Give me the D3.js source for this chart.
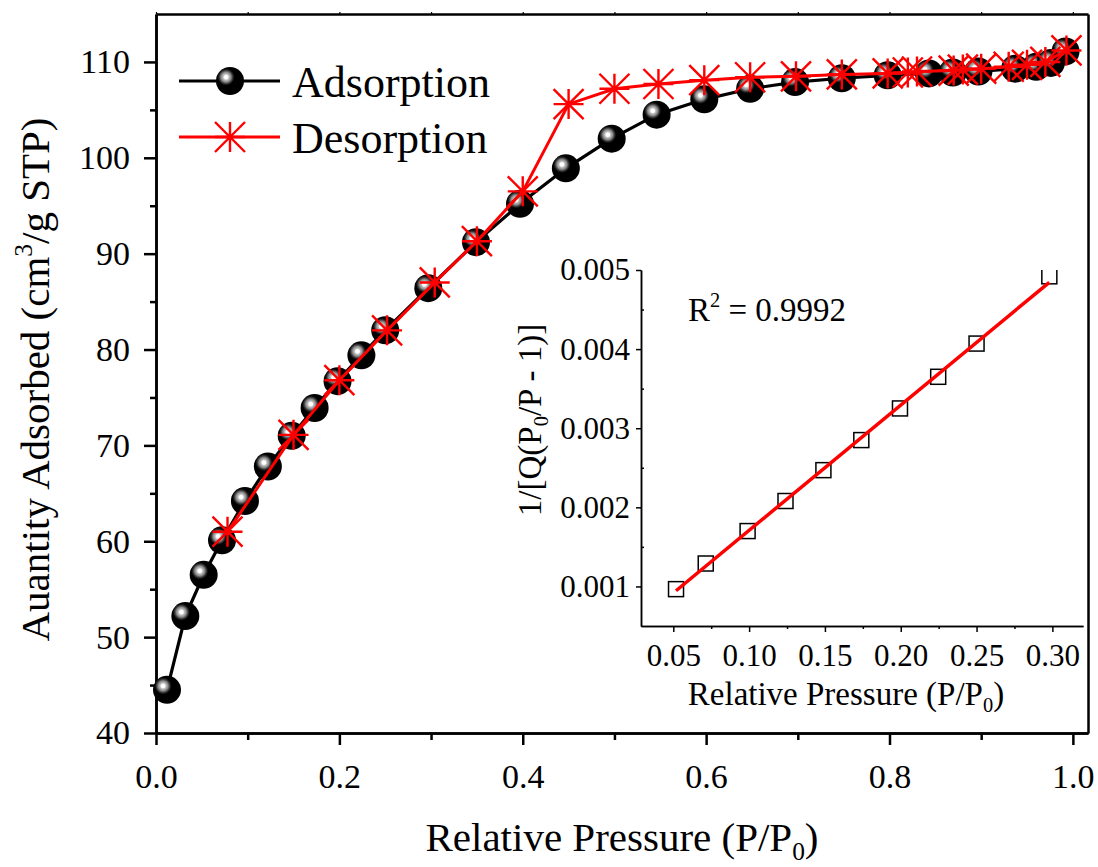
<!DOCTYPE html>
<html><head><meta charset="utf-8">
<script src="https://cdn.jsdelivr.net/npm/d3@7"></script>
<style>
html,body{margin:0;padding:0;background:#fff;}
svg{display:block;}
</style></head><body>
<svg id="chart" width="1098" height="867" font-family="Liberation Serif"></svg>
<script>
// N2 isotherm: adsorption branch
const adsorptionP = [0.012,0.032,0.052,0.072,0.097,0.122,0.148,0.173,0.198,0.224,0.25,0.297,0.349,0.397,0.447,0.497,0.546,0.598,0.648,0.697,0.748,0.798,0.843,0.869,0.897,0.937,0.96,0.976,0.992];
const adsorptionQ = [44.5,52.2,56.5,60.1,64.2,67.8,71.0,73.9,76.7,79.4,82.0,86.4,91.2,95.2,98.9,102.0,104.5,106.1,107.2,107.9,108.3,108.6,108.8,108.9,109.0,109.3,109.5,109.9,111.1];
// desorption branch
const desorptionP = [0.078,0.15,0.2,0.252,0.304,0.35,0.4,0.45,0.5,0.548,0.598,0.648,0.698,0.748,0.798,0.82,0.83,0.87,0.88,0.90,0.93,0.95,0.97,0.993];
const desorptionQ = [61.0,71.1,76.8,82.0,87.0,91.3,96.5,105.6,107.2,107.7,108.1,108.4,108.5,108.7,108.8,108.9,109.0,109.1,109.2,109.3,109.5,109.7,110.0,111.2];
const mainXTicks = [0,0.2,0.4,0.6,0.8,1.0];
const mainXMinor = [0.1,0.3,0.5,0.7,0.9];
const mainYTicks = [40,50,60,70,80,90,100,110];
const mainYMinor = [45,55,65,75,85,95,105];

// BET linear region
const betP = [0.0518,0.0714,0.099,0.124,0.149,0.174,0.1995,0.2247,0.25,0.298];
const betY = [0.000966,0.00129,0.0017,0.00208,0.00247,0.00285,0.00325,0.00365,0.00407,0.00492];
const betXTicks = [0.05,0.10,0.15,0.20,0.25,0.30];
const betXMinor = [0.075,0.125,0.175,0.225,0.275];
const betYTicks = [0.001,0.002,0.003,0.004,0.005];
const betYMinor = [0.0015,0.0025,0.0035,0.0045];
const r2Text = "0.9992";

const FONT = "Liberation Serif";
const svg = d3.select("#chart");
const defs = svg.append("defs");

// shaded sphere marker fill
const grad = defs.append("radialGradient").attr("id","sphere")
  .attr("cx",0.36).attr("cy",0.36).attr("r",0.3).attr("fx",0.36).attr("fy",0.36);
[[0,"#ffffff"],[0.22,"#ffffff"],[0.34,"#c4c4c4"],[0.58,"#8c8c8c"],[0.82,"#303030"],[1,"#000000"]]
  .forEach(([o,c]) => grad.append("stop").attr("offset",o).attr("stop-color",c));

// ---------- main plot ----------
const L = 156, R = 1088, T = 14, B = 733;
const x = d3.scaleLinear().domain([0,1.0165]).range([L,R]);
const y = d3.scaleLinear().domain([40,115]).range([B,T]);

function styleAxis(g, w, fs){
  g.attr("font-family",FONT).attr("font-size",fs).attr("fill","#000");
  g.select(".domain").attr("stroke","#000").attr("stroke-width",w);
  g.selectAll(".tick line").attr("stroke","#000").attr("stroke-width",w);
  g.selectAll(".tick text").attr("fill","#000").attr("font-family",FONT);
}

// frame: top and right
const gTop = svg.append("g").attr("transform",`translate(0,${T})`)
  .call(d3.axisTop(x).tickValues(mainXMinor.concat(mainXTicks)).tickSize(2).tickSizeOuter(0).tickFormat(""));
styleAxis(gTop,2.5,0);
gTop.selectAll(".tick line").attr("stroke-width",1.2);
const gRight = svg.append("g").attr("transform",`translate(${R},0)`)
  .call(d3.axisRight(y).tickValues([]).tickSizeOuter(0));
styleAxis(gRight,2.5,0);

// x axis
const gxMinor = svg.append("g").attr("transform",`translate(0,${B})`)
  .call(d3.axisBottom(x).tickValues(mainXMinor).tickSize(7).tickSizeOuter(0).tickFormat(""));
styleAxis(gxMinor,2.5,0);
const gx = svg.append("g").attr("transform",`translate(0,${B})`)
  .call(d3.axisBottom(x).tickValues(mainXTicks).tickSize(12).tickSizeOuter(0).tickPadding(19).tickFormat(d3.format(".1f")));
styleAxis(gx,2.5,34);

// y axis
const gyMinor = svg.append("g").attr("transform",`translate(${L},0)`)
  .call(d3.axisLeft(y).tickValues(mainYMinor).tickSize(6).tickSizeOuter(0).tickFormat(""));
styleAxis(gyMinor,2.5,0);
const gy = svg.append("g").attr("transform",`translate(${L},0)`)
  .call(d3.axisLeft(y).tickValues(mainYTicks).tickSize(12).tickSizeOuter(0).tickPadding(14).tickFormat(d3.format("d")));
styleAxis(gy,2.5,34);

// rich text helper: parts = [[text, "sub"|"sup"|null], ...]
function richText(sel, parts, fs){
  sel.attr("font-family",FONT).attr("fill","#000");
  let shift = 0;
  parts.forEach(([t,kind]) => {
    const target = kind==="sub" ? 0.22*fs : kind==="sup" ? -0.42*fs : 0;
    sel.append("tspan").attr("dy", target - shift).attr("font-size", kind ? 0.62*fs : fs).text(t);
    shift = target;
  });
}

// axis titles
const xt = svg.append("text").attr("x",(L+R)/2).attr("y",851).attr("text-anchor","middle").attr("font-size",41);
richText(xt,[["Relative Pressure (P/P"],["0","sub"],[")"]],41);
const yt = svg.append("text").attr("transform",`translate(49,${(T+B)/2+6}) rotate(-90)`).attr("text-anchor","middle").attr("font-size",41);
richText(yt,[["Auantity Adsorbed (cm"],["3","sup"],["/g STP)"]],41);

// series
const starPath = s => `M${-s},0H${s}M0,${-s}V${s}M${-s},${-s}L${s},${s}M${-s},${s}L${s},${-s}`;
const ads = adsorptionP.map((p,i)=>[p,adsorptionQ[i]]);
const des = desorptionP.map((p,i)=>[p,desorptionQ[i]]);
const line = d3.line().x(d=>x(d[0])).y(d=>y(d[1]));

svg.append("path").datum(ads).attr("d",line).attr("fill","none").attr("stroke","#000").attr("stroke-width",3.2);
svg.append("g").selectAll("circle").data(ads).join("circle")
  .attr("cx",d=>x(d[0])).attr("cy",d=>y(d[1])).attr("r",14).attr("fill","url(#sphere)");

svg.append("path").datum(des).attr("d",line).attr("fill","none").attr("stroke","#ff0000").attr("stroke-width",3);
svg.append("g").selectAll("path").data(des).join("path")
  .attr("transform",d=>`translate(${x(d[0])},${y(d[1])})`).attr("d",starPath(15))
  .attr("fill","none").attr("stroke","#ff0000").attr("stroke-width",2.4);

// legend
const legend = svg.append("g");
legend.append("line").attr("x1",179).attr("x2",280).attr("y1",81).attr("y2",81).attr("stroke","#000").attr("stroke-width",3.2);
legend.append("circle").attr("cx",230).attr("cy",81).attr("r",14).attr("fill","url(#sphere)");
legend.append("text").attr("x",292).attr("y",97).attr("font-size",44).attr("font-family",FONT).text("Adsorption");
legend.append("line").attr("x1",179).attr("x2",280).attr("y1",137).attr("y2",137).attr("stroke","#ff0000").attr("stroke-width",3);
legend.append("path").attr("transform","translate(230,137)").attr("d",starPath(15)).attr("fill","none").attr("stroke","#ff0000").attr("stroke-width",2.4);
legend.append("text").attr("x",292).attr("y",153).attr("font-size",44).attr("font-family",FONT).text("Desorption");

// ---------- BET inset ----------
const iL = 641, iR = 1083, iT = 270, iB = 626;
const bx = d3.scaleLinear().domain([0.0287,0.3202]).range([iL,iR]);
const by = d3.scaleLinear().domain([0.0005,0.005]).range([iB,iT]);

const ibxMinor = svg.append("g").attr("transform",`translate(0,${iB})`)
  .call(d3.axisBottom(bx).tickValues(betXMinor).tickSize(3).tickSizeOuter(0).tickFormat(""));
styleAxis(ibxMinor,1.5,0);
const ibx = svg.append("g").attr("transform",`translate(0,${iB})`)
  .call(d3.axisBottom(bx).tickValues(betXTicks).tickSize(6).tickSizeOuter(0).tickPadding(12).tickFormat(d3.format(".2f")));
styleAxis(ibx,1.5,31);
const ibyMinor = svg.append("g").attr("transform",`translate(${iL},0)`)
  .call(d3.axisLeft(by).tickValues(betYMinor).tickSize(-3).tickSizeOuter(0).tickFormat(""));
styleAxis(ibyMinor,1.5,0);
const iby = svg.append("g").attr("transform",`translate(${iL},0)`)
  .call(d3.axisLeft(by).tickValues(betYTicks).tickSize(5).tickSizeOuter(0).tickPadding(6).tickFormat(d3.format(".3f")));
styleAxis(iby,1.5,31);

const ixt = svg.append("text").attr("x",846).attr("y",705).attr("text-anchor","middle").attr("font-size",33);
richText(ixt,[["Relative Pressure (P/P"],["0","sub"],[")"]],33);
const iyt = svg.append("text").attr("transform",`translate(541,${420}) rotate(-90)`).attr("text-anchor","middle").attr("font-size",33);
richText(iyt,[["1/[Q(P"],["0","sub"],["/P - 1)]"]],33);

const r2 = svg.append("text").attr("x",688).attr("y",321).attr("font-size",33);
richText(r2,[["R"],["2","sup"],[" = " + r2Text]],33);

defs.append("clipPath").attr("id","insetClip").append("rect")
  .attr("x",iL).attr("y",iT).attr("width",iR-iL).attr("height",iB-iT);

const bet = betP.map((p,i)=>[p,betY[i]]);
svg.append("g").attr("clip-path","url(#insetClip)").selectAll("rect").data(bet).join("rect")
  .attr("x",d=>bx(d[0])-7.5).attr("y",d=>by(d[1])-7.5).attr("width",15).attr("height",15)
  .attr("fill","none").attr("stroke","#000").attr("stroke-width",1.5);

// least-squares line through the BET points
const mx = d3.mean(betP), my = d3.mean(betY);
const slope = d3.sum(bet, d=>(d[0]-mx)*(d[1]-my)) / d3.sum(bet, d=>(d[0]-mx)**2);
const icpt = my - slope*mx;
const fitEnds = d3.extent(betP).map(p=>[p, icpt + slope*p]);
svg.append("path").datum(fitEnds)
  .attr("d",d3.line().x(d=>bx(d[0])).y(d=>by(d[1])))
  .attr("stroke","#ff0000").attr("stroke-width",3.5).attr("fill","none");
</script>
</body></html>
